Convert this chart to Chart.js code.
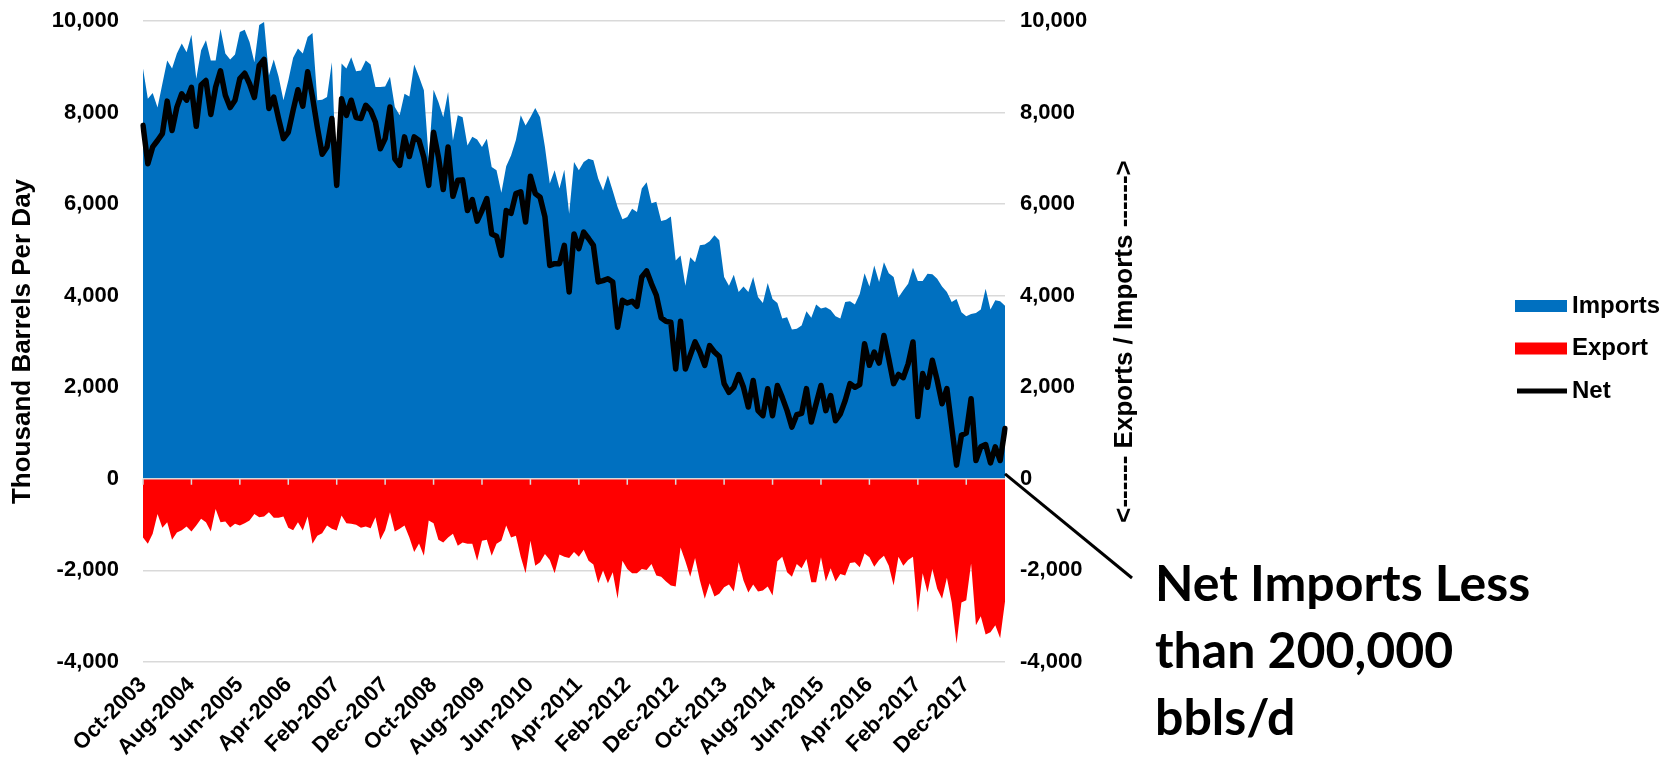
<!DOCTYPE html>
<html>
<head>
<meta charset="utf-8">
<script src="https://cdn.jsdelivr.net/npm/chart.js@4.4.1/dist/chart.umd.min.js"></script>
<style>
  html, body { margin: 0; padding: 0; background: #fff; }
  #wrap { width: 1662px; height: 770px; position: relative; }
</style>
</head>
<body>
<div id="wrap"><canvas id="chart"></canvas></div>
<script>
// monthly, Oct-2003 .. Aug-2018
const monthNames = ['Jan', 'Feb', 'Mar', 'Apr', 'May', 'Jun', 'Jul', 'Aug', 'Sep', 'Oct', 'Nov', 'Dec'];
const firstYear = 2003;
const firstMonth = 9;
const monthCount = 179;
const months = [];
for (let k = 0; k < monthCount; k++) {
    const m = firstMonth + k;
    months.push(monthNames[m % 12] + '-' + (firstYear + Math.floor(m / 12)));
}

const imports = [
    8960, 8300, 8430, 8110, 8630, 9140, 8960, 9290, 9510, 9320,
    9700, 8740, 9360, 9580, 9140, 9140, 9830, 9290, 9160, 9270,
    9760, 9810, 9540, 9100, 9910, 9980, 8810, 9160, 8780, 8270,
    8700, 9200, 9400, 9290, 9650, 9740, 8270, 8280, 8340, 9100,
    6450, 9070, 8960, 9210, 8900, 8920, 9140, 9050, 8560, 8560,
    8570, 8780, 8120, 7940, 8410, 8350, 9050, 8780, 8490, 6990,
    8500, 8230, 7900, 8450, 7390, 7940, 7900, 7280, 7470, 7410,
    7250, 7430, 6810, 6740, 6250, 6830, 7060, 7400, 7940, 7720,
    7900, 8100, 7900, 7250, 6450, 6740, 6340, 6750, 5790, 6920,
    6740, 6920, 6990, 6960, 6560, 6300, 6630, 6290, 5940, 5670,
    5720, 5900, 5830, 6340, 6480, 6020, 6050, 5630, 5660, 5730,
    4770, 4880, 4220, 4840, 4730, 5100, 5120, 5190, 5320, 5210,
    4410, 4220, 4460, 4080, 4200, 4080, 4410, 3970, 3840, 4280,
    3930, 3840, 3500, 3530, 3260, 3280, 3350, 3660, 3520, 3810,
    3720, 3750, 3690, 3550, 3500, 3860, 3880, 3810, 4040, 4490,
    4200, 4660, 4300, 4730, 4490, 4410, 3960, 4120, 4260, 4610,
    4320, 4320, 4480, 4470, 4370, 4200, 4080, 3860, 3930, 3640,
    3550, 3600, 3620, 3700, 4150, 3700, 3900, 3880, 3780
];

const exportsSeries = [
    -1280, -1420, -1200, -770, -1070, -950, -1330, -1170, -1120, -1040,
    -1150, -1020, -870, -950, -1150, -660, -950, -930, -1060, -980,
    -1020, -970, -910, -770, -840, -820, -730, -850, -850, -820,
    -1070, -1120, -950, -1130, -820, -1420, -1240, -1190, -1020, -1090,
    -1130, -800, -970, -980, -1000, -1070, -1040, -1080, -840, -1330,
    -1120, -730, -1150, -1090, -1020, -1280, -1600, -1410, -1680, -910,
    -970, -1330, -1390, -1280, -1200, -1460, -1390, -1420, -1420, -1790,
    -1350, -1330, -1680, -1420, -1350, -1020, -1280, -1240, -1700, -2060,
    -1350, -1900, -1820, -1640, -1770, -2060, -1650, -1700, -1730, -1600,
    -1700, -1550, -1790, -1870, -2280, -2000, -2280, -2040, -2620, -1790,
    -1970, -2060, -2060, -1970, -1990, -1860, -2110, -2140, -2240, -2330,
    -2350, -1500, -1800, -2140, -1730, -2220, -2620, -2280, -2570, -2510,
    -2370, -2310, -2460, -1820, -2220, -2480, -2310, -2460, -2440, -2350,
    -2550, -1800, -1700, -2040, -2140, -1860, -1950, -1750, -2260, -2260,
    -1710, -2240, -1950, -2240, -2080, -2110, -1840, -1820, -1930, -1630,
    -1710, -1920, -1770, -1680, -1900, -2330, -1700, -1900, -1770, -1700,
    -2920, -2060, -2480, -1970, -2400, -2620, -2160, -2700, -3600, -2700,
    -2650, -1850, -3200, -3000, -3400, -3350, -3200, -3480, -2680
];

const net = [
    7720, 6880, 7250, 7390, 7540, 8250, 7610, 8120, 8410, 8270,
    8550, 7700, 8600, 8700, 7960, 8560, 8910, 8380, 8110, 8270,
    8740, 8860, 8630, 8330, 9030, 9160, 8090, 8340, 7870, 7430,
    7570, 8050, 8500, 8140, 8890, 8340, 7680, 7090, 7250, 7870,
    6410, 8300, 7940, 8270, 7890, 7870, 8160, 8050, 7790, 7210,
    7430, 8120, 6990, 6850, 7470, 7040, 7470, 7390, 7020, 6410,
    7570, 7030, 6320, 7250, 6170, 6520, 6530, 5860, 6100, 5630,
    5860, 6120, 5350, 5300, 4880, 5860, 5800, 6230, 6270, 5610,
    6610, 6230, 6150, 5720, 4660, 4700, 4700, 5100, 4080, 5350,
    5030, 5390, 5250, 5100, 4300, 4330, 4370, 4300, 3310, 3900,
    3840, 3880, 3770, 4410, 4540, 4260, 4010, 3520, 3440, 3420,
    2400, 3440, 2400, 2700, 2990, 2770, 2480, 2910, 2770, 2670,
    2080, 1890, 2000, 2280, 2000, 1570, 2150, 1490, 1380, 1970,
    1380, 2040, 1780, 1490, 1130, 1400, 1430, 1970, 1240, 1640,
    2040, 1490, 1820, 1270, 1420, 1710, 2080, 2000, 2060, 2950,
    2480, 2770, 2530, 3130, 2620, 2080, 2280, 2210, 2510, 2990,
    1360, 2300, 2000, 2590, 2150, 1640, 1970, 1130, 300, 950,
    1000, 1750, 400, 700, 750, 350, 700, 400, 1100
];

const yMin = -4000;
const yMax = 10000;
const yStep = 2000;
const labelEvery = 10;

const legendItems = [
    { label: 'Imports', color: '#0070C0', kind: 'box' },
    { label: 'Export', color: '#FF0000', kind: 'box' },
    { label: 'Net', color: '#000000', kind: 'line' }
];
const calloutLines = ['Net Imports Less', 'than 200,000', 'bbls/d'];

const sans = "'Liberation Sans', Arial, sans-serif";
const tickFont = { family: sans, size: 22, weight: 'bold' };
const titleFont = { family: sans, size: 26, weight: 'bold' };

// the plot box is fixed, so drop the extra room Chart.js keeps for tick labels
function fixWidth(w) {
    return (s) => {
        s.width = w;
        s.paddingTop = 0;
        s.paddingBottom = 0;
    };
}

const extras = {
    id: 'extras',
    afterDatasetsDraw(chart) {
        const ctx = chart.ctx;
        const area = chart.chartArea;
        const xs = chart.scales.x;
        const ys = chart.scales.y;
        const y0 = ys.getPixelForValue(0);

        // zero axis line with tick marks
        ctx.save();
        ctx.strokeStyle = '#d9d9d9';
        ctx.lineWidth = 1.5;
        ctx.beginPath();
        ctx.moveTo(area.left, y0);
        ctx.lineTo(area.right, y0);
        for (let i = 0; i < months.length; i += labelEvery) {
            const x = xs.getPixelForValue(i);
            ctx.moveTo(x, y0);
            ctx.lineTo(x, y0 + 6);
        }
        ctx.stroke();
        ctx.restore();
    },
    afterDraw(chart) {
        const ctx = chart.ctx;
        const area = chart.chartArea;
        const ys = chart.scales.y;
        ctx.save();

        // right axis title
        ctx.fillStyle = '#000';
        ctx.font = 'bold 26px ' + sans;
        ctx.textAlign = 'center';
        ctx.textBaseline = 'middle';
        ctx.translate(1125, (area.top + area.bottom) / 2);
        ctx.rotate(-Math.PI / 2);
        ctx.fillText('<------ Exports / Imports ------>', 0, 0);
        ctx.setTransform(1, 0, 0, 1, 0, 0);

        // legend
        ctx.font = 'bold 24px ' + sans;
        ctx.textAlign = 'left';
        legendItems.forEach((item, k) => {
            const cy = 306 + k * 42.5;
            if (item.kind === 'box') {
                ctx.fillStyle = item.color;
                ctx.fillRect(1515, cy - 6, 52, 12);
            } else {
                ctx.strokeStyle = item.color;
                ctx.lineWidth = 5;
                ctx.beginPath();
                ctx.moveTo(1517, cy);
                ctx.lineTo(1567, cy);
                ctx.stroke();
            }
            ctx.fillStyle = '#000';
            ctx.fillText(item.label, 1572, cy);
        });

        // callout
        const y0 = ys.getPixelForValue(0);
        ctx.strokeStyle = '#000';
        ctx.lineWidth = 3;
        ctx.beginPath();
        ctx.moveTo(area.right, y0 - 5);
        ctx.lineTo(1132, 578);
        ctx.stroke();

        ctx.fillStyle = '#000';
        ctx.font = 'bold 50px Lato, "Open Sans", sans-serif';
        ctx.textBaseline = 'alphabetic';
        calloutLines.forEach((t, k) => {
            ctx.fillText(t, 1155, 601 + k * 67);
        });
        ctx.restore();
    }
};

new Chart(document.getElementById('chart').getContext('2d'), {
    type: 'line',
    data: {
        labels: months,
        datasets: [{
            label: 'Net',
            data: net,
            borderColor: '#000000',
            borderWidth: 5.5,
            borderJoinStyle: 'round',
            borderCapStyle: 'round',
            pointRadius: 0,
            fill: false,
            tension: 0,
            order: 0
        }, {
            label: 'Export',
            data: exportsSeries,
            borderWidth: 0,
            borderColor: 'rgba(0,0,0,0)',
            backgroundColor: '#FF0000',
            pointRadius: 0,
            fill: 'origin',
            tension: 0,
            order: 1
        }, {
            label: 'Imports',
            data: imports,
            borderWidth: 0,
            borderColor: 'rgba(0,0,0,0)',
            backgroundColor: '#0070C0',
            pointRadius: 0,
            fill: 'origin',
            tension: 0,
            order: 2
        }]
    },
    options: {
        responsive: true,
        maintainAspectRatio: false,
        animation: false,
        events: [],
        layout: { padding: { top: 21, left: 0, right: 0, bottom: 0 } },
        plugins: {
            legend: { display: false },
            tooltip: { enabled: false }
        },
        scales: {
            x: {
                grid: { display: false, drawTicks: false },
                border: { display: false },
                ticks: {
                    autoSkip: false,
                    minRotation: 45,
                    maxRotation: 45,
                    padding: 10,
                    color: '#000',
                    font: tickFont,
                    callback: (v, i) => (i % labelEvery === 0 ? months[i] : '')
                },
                afterFit(s) { s.height = 108; }
            },
            y: {
                position: 'left',
                min: yMin,
                max: yMax,
                ticks: { stepSize: yStep, padding: 24, color: '#000', font: tickFont },
                grid: { color: '#d9d9d9', lineWidth: 1.5, drawTicks: false },
                border: { display: false },
                title: {
                    display: true,
                    text: 'Thousand Barrels Per Day',
                    color: '#000',
                    font: titleFont,
                    padding: { top: 7, bottom: 0 }
                },
                afterFit: fixWidth(143)
            },
            y2: {
                position: 'right',
                min: yMin,
                max: yMax,
                ticks: { stepSize: yStep, padding: 15, color: '#000', font: tickFont },
                grid: { display: false, drawTicks: false },
                border: { display: false },
                afterFit: fixWidth(657)
            }
        }
    },
    plugins: [extras]
});
</script>
</body>
</html>
